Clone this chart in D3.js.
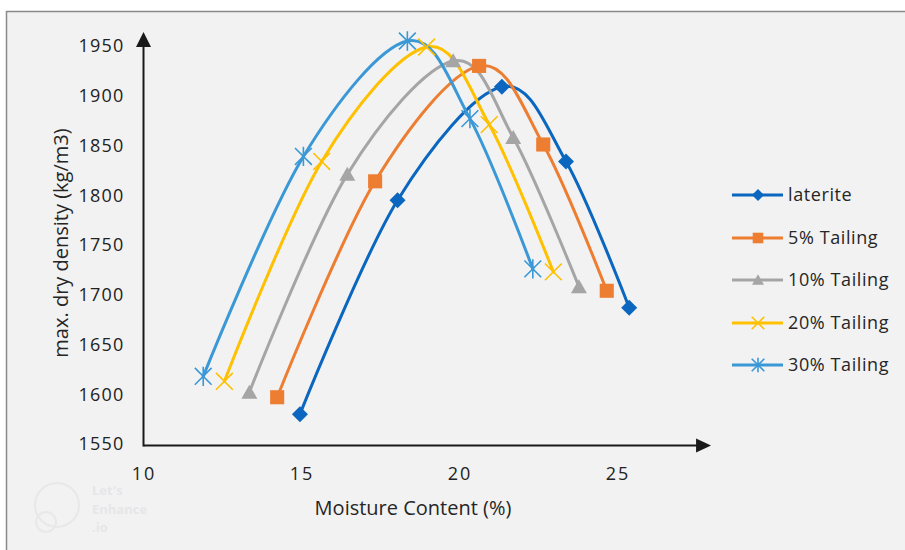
<!DOCTYPE html>
<html>
<head>
<meta charset="utf-8">
<script src="https://cdn.jsdelivr.net/npm/d3@7"></script>
<style>
  html, body { margin: 0; padding: 0; background: #ffffff; }
  svg { display: block; font-family: "Open Sans", "Noto Sans", sans-serif; }
</style>
</head>
<body>
<svg id="chart" width="905" height="550"></svg>
<script>
// ---- data ----
const seriesNames = ["laterite", "5% Tailing", "10% Tailing", "20% Tailing", "30% Tailing"];
const lateriteMoisture = [14.95, 18.04, 21.34, 23.37, 25.37];
const lateriteDensity  = [1580, 1795, 1909, 1834, 1687];
const tail5Moisture    = [14.23, 17.33, 20.62, 22.65, 24.66];
const tail5Density     = [1597, 1814, 1930, 1851, 1704];
const tail10Moisture   = [13.35, 16.45, 19.80, 21.70, 23.78];
const tail10Density    = [1602, 1821, 1935, 1858, 1708];
const tail20Moisture   = [12.56, 15.64, 18.96, 20.94, 22.97];
const tail20Density    = [1613, 1834, 1949, 1871, 1723];
const tail30Moisture   = [11.89, 15.06, 18.35, 20.33, 22.32];
const tail30Density    = [1618, 1839, 1955, 1877, 1726];
const xTicks = [10, 15, 20, 25];
const yTicks = [1550, 1600, 1650, 1700, 1750, 1800, 1850, 1900, 1950];
const xTitle = "Moisture Content (%)";
const yTitle = "max. dry density (kg/m3)";
const watermarkLines = ["Let's", "Enhance", ".io"];

const colors  = ["#0a66bf", "#ed7d31", "#a5a5a5", "#ffc000", "#3a98d6"];
const markers = ["diamond", "square", "triangle", "x", "star"];

const moistures = [lateriteMoisture, tail5Moisture, tail10Moisture, tail20Moisture, tail30Moisture];
const densities = [lateriteDensity, tail5Density, tail10Density, tail20Density, tail30Density];
const series = seriesNames.map((name, i) => ({
  name, color: colors[i], marker: markers[i],
  points: moistures[i].map((m, j) => ({ x: m, y: densities[i][j] }))
}));

// ---- layout ----
const svg = d3.select("#chart");
const x = d3.scaleLinear().domain([10, 25]).range([143.5, 617.5]);
const y = d3.scaleLinear().domain([1550, 1950]).range([444, 46]);
const xArrowEnd = 27.96, yArrowEnd = 1964;

// background panel
svg.append("rect").attr("x", 6.5).attr("y", 11.5).attr("width", 905).attr("height", 560)
  .attr("fill", "#f2f2f2").attr("stroke", "#8a8a8a").attr("stroke-width", 1.5);

// faint watermark
const wm = svg.append("g").attr("fill", "none");
wm.append("circle").attr("cx", 57).attr("cy", 505).attr("r", 22).attr("stroke", "#e8e8ea").attr("stroke-width", 2);
wm.append("circle").attr("cx", 46).attr("cy", 522).attr("r", 10).attr("stroke", "#e8e8ea").attr("stroke-width", 2);
const wmt = svg.append("g").attr("fill", "#e6e6e9").attr("font-weight", "bold").attr("font-size", 13);
watermarkLines.forEach((t, i) => {
  wmt.append("text").attr("x", 92).attr("y", 495 + i * 18.5).text(t);
});

// axes
const axisColor = "#1a1a1a";
const xAxisY = y(1550) + 1.5;
const xAxis = svg.append("g").attr("transform", `translate(0,${xAxisY})`)
  .call(d3.axisBottom(x).tickValues(xTicks).tickSize(0).tickPadding(22).tickFormat(d3.format("d")));
xAxis.select(".domain").remove();
xAxis.selectAll("text").attr("font-size", 18).attr("fill", "#222").attr("letter-spacing", "2px")
  .attr("font-family", "'Open Sans', sans-serif");

const yAxis = svg.append("g").attr("transform", `translate(${x(10)},0)`)
  .call(d3.axisLeft(y).tickValues(yTicks).tickSize(0).tickPadding(19).tickFormat(d3.format("d")));
yAxis.select(".domain").remove();
yAxis.selectAll("text").attr("font-size", 18).attr("fill", "#222").attr("letter-spacing", "1.2px")
  .attr("font-family", "'Open Sans', sans-serif");

// axis lines with arrows
svg.append("line").attr("x1", x(10)).attr("x2", x(xArrowEnd) - 13).attr("y1", xAxisY).attr("y2", xAxisY)
  .attr("stroke", axisColor).attr("stroke-width", 2);
svg.append("path").attr("d", `M${x(xArrowEnd)},${xAxisY} L${x(xArrowEnd) - 15},${xAxisY - 7} L${x(xArrowEnd) - 15},${xAxisY + 7} Z`)
  .attr("fill", axisColor);
svg.append("line").attr("x1", x(10)).attr("x2", x(10)).attr("y1", xAxisY + 1).attr("y2", y(yArrowEnd) + 13)
  .attr("stroke", axisColor).attr("stroke-width", 2);
svg.append("path").attr("d", `M${x(10)},${y(yArrowEnd)} L${x(10) - 7.5},${y(yArrowEnd) + 15} L${x(10) + 7.5},${y(yArrowEnd) + 15} Z`)
  .attr("fill", axisColor);

// axis titles
svg.append("text").attr("x", 413).attr("y", 515).attr("text-anchor", "middle")
  .attr("font-size", 20).attr("fill", "#262626").text(xTitle);
svg.append("text").attr("transform", `translate(68,243) rotate(-90)`).attr("text-anchor", "middle")
  .attr("font-size", 20).attr("fill", "#262626").text(yTitle);

// marker drawer
function drawMarker(g, type, cx, cy, color, s) {
  if (type === "diamond") {
    g.append("path").attr("d", `M${cx},${cy - s} L${cx + s},${cy} L${cx},${cy + s} L${cx - s},${cy} Z`).attr("fill", color);
  } else if (type === "square") {
    g.append("rect").attr("x", cx - s * 0.88).attr("y", cy - s * 0.88).attr("width", s * 1.76).attr("height", s * 1.76).attr("fill", color);
  } else if (type === "triangle") {
    g.append("path").attr("d", `M${cx},${cy - s * 0.95} L${cx + s},${cy + s * 0.8} L${cx - s},${cy + s * 0.8} Z`).attr("fill", color);
  } else if (type === "x") {
    const r = s * 1.05;
    g.append("path").attr("d", `M${cx - r},${cy - r} L${cx + r},${cy + r} M${cx - r},${cy + r} L${cx + r},${cy - r}`)
      .attr("stroke", color).attr("stroke-width", 1.6).attr("fill", "none");
  } else if (type === "star") {
    const r = s * 1.05;
    g.append("path").attr("d", `M${cx - r},${cy - r} L${cx + r},${cy + r} M${cx - r},${cy + r} L${cx + r},${cy - r} M${cx},${cy - r * 1.15} L${cx},${cy + r * 1.15}`)
      .attr("stroke", color).attr("stroke-width", 1.6).attr("fill", "none");
  }
}

// series lines
const line = d3.line().x(d => x(d.x)).y(d => y(d.y)).curve(d3.curveCatmullRom.alpha(0));
const plot = svg.append("g");
series.forEach(s => {
  plot.append("path").datum(s.points).attr("d", line).attr("fill", "none")
    .attr("stroke", s.color).attr("stroke-width", 3).attr("stroke-linecap", "round");
});
series.forEach(s => {
  const g = plot.append("g");
  s.points.forEach(p => drawMarker(g, s.marker, x(p.x), y(p.y), s.color, 8));
});

// legend
const legendY = [195, 238, 280, 323, 365];
const legend = svg.append("g");
series.forEach((s, i) => {
  const ly = legendY[i];
  legend.append("line").attr("x1", 732).attr("x2", 783).attr("y1", ly).attr("y2", ly)
    .attr("stroke", s.color).attr("stroke-width", 3);
  drawMarker(legend, s.marker, 758, ly, s.color, 6);
  legend.append("text").attr("x", 788).attr("y", ly).attr("dy", "0.35em")
    .attr("font-size", 18).attr("letter-spacing", "0.6px").attr("fill", "#262626").text(s.name);
});
</script>
</body>
</html>
